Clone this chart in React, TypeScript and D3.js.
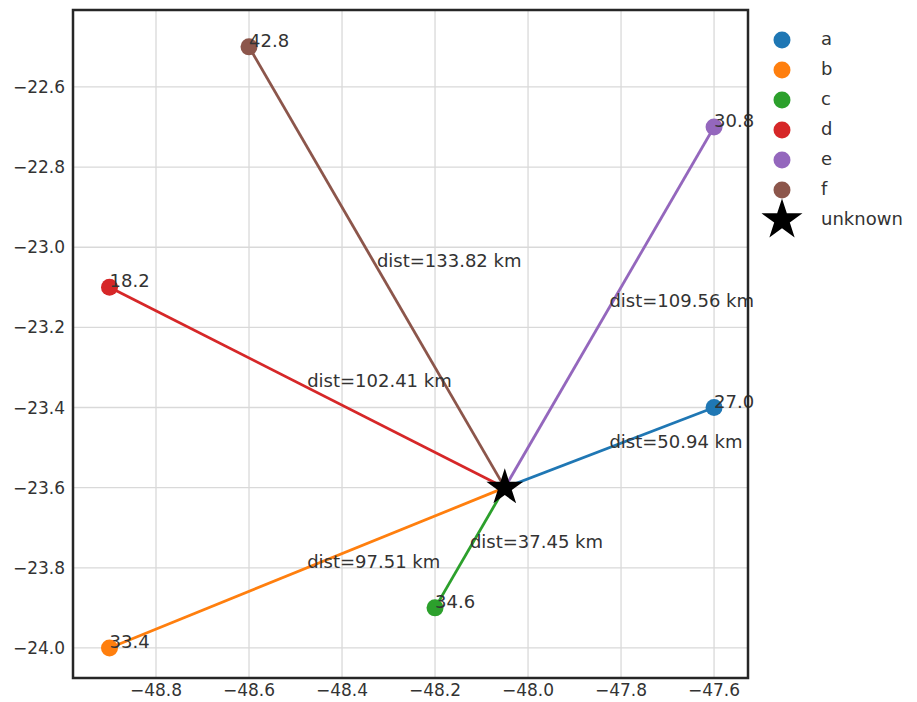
import React from "react";
import * as d3 from "d3";

const names = ["a", "b", "c", "d", "e", "f"];
const lons = [-47.6, -48.9, -48.2, -48.9, -47.6, -48.6];
const lats = [-23.4, -24.0, -23.9, -23.1, -22.7, -22.5];
const temps = ["27.0", "33.4", "34.6", "18.2", "30.8", "42.8"];
const dists = ["50.94", "97.51", "37.45", "102.41", "109.56", "133.82"];
const colors = ["#1f77b4", "#ff7f0e", "#2ca02c", "#d62728", "#9467bd", "#8c564b"];
const unknownLon = -48.05;
const unknownLat = -23.6;
const xTicks = [-48.8, -48.6, -48.4, -48.2, -48.0, -47.8, -47.6];
const yTicks = [-22.6, -22.8, -23.0, -23.2, -23.4, -23.6, -23.8, -24.0];

const W = 917, H = 702;
const L = 73, R = 748, T = 10, B = 678;
const FONT = "'DejaVu Sans', sans-serif";
const TXT = "#333333";

const fmt = (v: number) => v.toFixed(1).replace("-", "\u2212");

export default function App() {
  const x = d3.scaleLinear().domain([-48.9785, -47.527]).range([L, R]);
  const y = d3.scaleLinear().domain([-22.408, -24.075]).range([T, B]);
  const star = d3.symbol().type(d3.symbolStar);
  const ux = x(unknownLon), uy = y(unknownLat);
  const fs = 18;
  const tfs = 17;
  return (
    <svg width={W} height={H} style={{ position: "absolute", left: 0, top: 0, background: "#fff" }} fontFamily={FONT}>
      <defs>
        <clipPath id="clip"><rect x={L} y={T} width={R - L} height={B - T} /></clipPath>
      </defs>
      <rect x={0} y={0} width={W} height={H} fill="#fff" />
      {xTicks.map((t) => (
        <line key={"gx" + t} x1={x(t)} x2={x(t)} y1={T} y2={B} stroke="#d9d9d9" strokeWidth={1.3} />
      ))}
      {yTicks.map((t) => (
        <line key={"gy" + t} x1={L} x2={R} y1={y(t)} y2={y(t)} stroke="#d9d9d9" strokeWidth={1.3} />
      ))}
      <g clipPath="url(#clip)">
        {names.map((n, i) => (
          <line key={"l" + n} x1={x(lons[i])} y1={y(lats[i])} x2={ux} y2={uy} stroke={colors[i]} strokeWidth={2.8} />
        ))}
      </g>
      {names.map((n, i) => (
        <text key={"d" + n} x={x((lons[i] + unknownLon) / 2)} y={y((lats[i] + unknownLat) / 2)} fontSize={fs} fill={TXT}>
          {"dist=" + dists[i] + " km"}
        </text>
      ))}
      {names.map((n, i) => (
        <circle key={"p" + n} cx={x(lons[i])} cy={y(lats[i])} r={8.5} fill={colors[i]} />
      ))}
      <path d={star.size(420)()!} transform={`translate(${ux},${uy})`} fill="#000" />
      {names.map((n, i) => (
        <text key={"t" + n} x={x(lons[i])} y={y(lats[i])} fontSize={fs} fill={TXT}>
          {temps[i]}
        </text>
      ))}
      <rect x={L} y={T} width={R - L} height={B - T} fill="none" stroke="#262626" strokeWidth={2.5} />
      {xTicks.map((t) => (
        <text key={"xt" + t} x={x(t)} y={696} textAnchor="middle" fontSize={tfs} fill={TXT}>
          {fmt(t)}
        </text>
      ))}
      {yTicks.map((t) => (
        <text key={"yt" + t} x={L - 8} y={y(t)} dy="0.36em" textAnchor="end" fontSize={tfs} fill={TXT}>
          {fmt(t)}
        </text>
      ))}
      {names.map((n, i) => (
        <g key={"lg" + n} transform={`translate(0,${40 + i * 30})`}>
          <circle cx={782} cy={0} r={8.5} fill={colors[i]} />
          <text x={821} y={0} dy="0.3em" fontSize={fs} fill={TXT}>{n}</text>
        </g>
      ))}
      <g transform={`translate(0,${40 + 6 * 30})`}>
        <path d={star.size(520)()!} transform="translate(782,0)" fill="#000" />
        <text x={821} y={0} dy="0.3em" fontSize={fs} fill={TXT}>unknown</text>
      </g>
    </svg>
  );
}
